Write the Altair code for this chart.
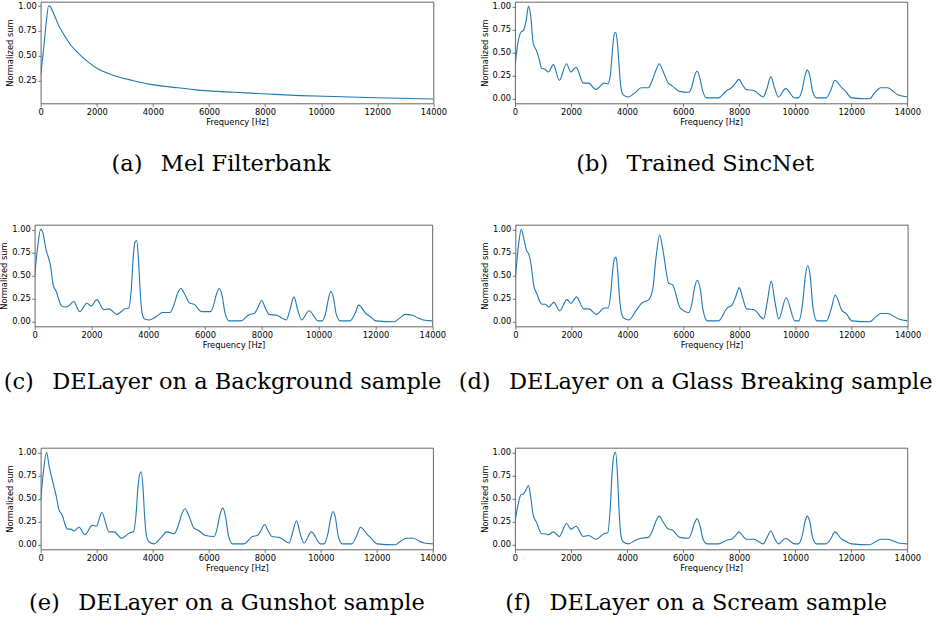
import altair as alt
import pandas as pd

# ---------------- data ----------------
FREQ_MEL = [0, 100, 200, 280, 330, 420, 530, 650, 770, 900, 1090, 1250, 1430, 1720,
            2020, 2610, 3270, 3920, 4750, 5700, 6890, 8080, 9270, 10460, 11650, 12830, 14000]
VAL_MEL = [0.30, 0.56, 0.84, 1.0, 1.0, 0.95, 0.88, 0.80, 0.74, 0.68, 0.60, 0.55, 0.50, 0.43,
           0.37, 0.30, 0.25, 0.21, 0.18, 0.15, 0.13, 0.113, 0.097, 0.087, 0.077, 0.070, 0.062]

FREQ = [0, 100, 210, 300, 400, 480, 560, 650, 770, 870, 950, 1070, 1190, 1370, 1580, 1840,
        1990, 2180, 2440, 2620, 2890, 3180, 3310, 3400, 3470, 3530, 3590, 3650, 3710, 3780,
        3870, 4050, 4300, 4500, 4760, 4900, 5020, 5150, 5280, 5470, 5610, 5880, 6190, 6300,
        6400, 6500, 6600, 6700, 6850, 7250, 7560, 7730, 7870, 7990, 8120, 8250, 8520, 8860,
        8980, 9130, 9260, 9400, 9660, 9980, 10110, 10250, 10350, 10430, 10520, 10620, 10760,
        11100, 11280, 11410, 11660, 11800, 12010, 12650, 12850, 13050, 13300, 13500, 13680, 14000]

VAL_SINC = [0.35, 0.60, 0.72, 0.74, 0.85, 1.00, 0.90, 0.60, 0.52, 0.42, 0.33, 0.32, 0.29, 0.37,
            0.20, 0.38, 0.29, 0.34, 0.17, 0.17, 0.10, 0.17, 0.16, 0.25, 0.50, 0.68, 0.72, 0.62,
            0.38, 0.12, 0.04, 0.02, 0.07, 0.12, 0.12, 0.20, 0.30, 0.38, 0.30, 0.17, 0.14, 0.08,
            0.07, 0.12, 0.24, 0.30, 0.22, 0.08, 0.01, 0.01, 0.09, 0.12, 0.17, 0.21, 0.15, 0.10,
            0.09, 0.02, 0.10, 0.24, 0.12, 0.02, 0.11, 0.01, 0.01, 0.10, 0.25, 0.31, 0.25, 0.08,
            0.01, 0.01, 0.10, 0.20, 0.12, 0.08, 0.01, 0.00, 0.07, 0.12, 0.12, 0.08, 0.04, 0.02]

VAL_BACKGROUND = [0.50, 0.80, 1.00, 0.95, 0.78, 0.70, 0.60, 0.40, 0.32, 0.22, 0.17, 0.16, 0.17, 0.22,
                  0.11, 0.20, 0.17, 0.24, 0.13, 0.14, 0.08, 0.14, 0.15, 0.35, 0.70, 0.86, 0.88, 0.70,
                  0.35, 0.10, 0.03, 0.02, 0.06, 0.10, 0.10, 0.18, 0.30, 0.36, 0.30, 0.20, 0.19, 0.11,
                  0.11, 0.18, 0.30, 0.36, 0.28, 0.10, 0.01, 0.01, 0.08, 0.09, 0.16, 0.23, 0.15, 0.08,
                  0.07, 0.02, 0.12, 0.27, 0.13, 0.02, 0.12, 0.01, 0.01, 0.10, 0.26, 0.33, 0.26, 0.08,
                  0.01, 0.01, 0.09, 0.18, 0.09, 0.06, 0.01, 0.00, 0.04, 0.08, 0.07, 0.04, 0.02, 0.01]

VAL_GLASS = [0.48, 0.80, 1.00, 0.90, 0.77, 0.73, 0.62, 0.40, 0.30, 0.22, 0.19, 0.19, 0.16, 0.21,
             0.12, 0.24, 0.20, 0.27, 0.14, 0.14, 0.08, 0.15, 0.15, 0.30, 0.55, 0.68, 0.70, 0.55,
             0.28, 0.10, 0.04, 0.02, 0.12, 0.20, 0.24, 0.35, 0.70, 0.94, 0.75, 0.42, 0.40, 0.15,
             0.10, 0.20, 0.38, 0.45, 0.35, 0.12, 0.01, 0.01, 0.15, 0.18, 0.28, 0.37, 0.25, 0.14,
             0.13, 0.03, 0.20, 0.44, 0.22, 0.03, 0.26, 0.01, 0.01, 0.20, 0.50, 0.61, 0.50, 0.15,
             0.01, 0.01, 0.15, 0.29, 0.12, 0.09, 0.01, 0.00, 0.05, 0.09, 0.09, 0.06, 0.03, 0.01]

VAL_GUNSHOT = [0.48, 0.80, 1.00, 0.85, 0.72, 0.62, 0.52, 0.38, 0.32, 0.22, 0.17, 0.17, 0.15, 0.19,
               0.11, 0.21, 0.20, 0.35, 0.14, 0.14, 0.07, 0.13, 0.14, 0.32, 0.62, 0.76, 0.79, 0.62,
               0.30, 0.09, 0.03, 0.01, 0.08, 0.14, 0.12, 0.20, 0.32, 0.39, 0.32, 0.18, 0.16, 0.10,
               0.09, 0.18, 0.33, 0.40, 0.30, 0.10, 0.01, 0.01, 0.09, 0.10, 0.16, 0.22, 0.15, 0.09,
               0.08, 0.02, 0.12, 0.26, 0.12, 0.02, 0.14, 0.01, 0.01, 0.12, 0.29, 0.36, 0.29, 0.09,
               0.01, 0.01, 0.10, 0.19, 0.11, 0.07, 0.01, 0.00, 0.04, 0.07, 0.07, 0.04, 0.02, 0.01]

VAL_SCREAM = [0.25, 0.42, 0.54, 0.55, 0.60, 0.64, 0.52, 0.32, 0.24, 0.16, 0.12, 0.12, 0.11, 0.14,
              0.09, 0.23, 0.17, 0.20, 0.09, 0.10, 0.06, 0.12, 0.13, 0.40, 0.80, 0.97, 1.00, 0.80,
              0.40, 0.10, 0.03, 0.01, 0.05, 0.07, 0.08, 0.15, 0.25, 0.31, 0.25, 0.17, 0.16, 0.08,
              0.07, 0.13, 0.23, 0.28, 0.21, 0.07, 0.01, 0.01, 0.05, 0.06, 0.10, 0.14, 0.10, 0.06,
              0.06, 0.01, 0.07, 0.15, 0.07, 0.01, 0.07, 0.01, 0.01, 0.10, 0.25, 0.31, 0.25, 0.08,
              0.01, 0.01, 0.07, 0.14, 0.06, 0.04, 0.01, 0.00, 0.03, 0.06, 0.06, 0.04, 0.02, 0.01]

X_TICKS = [0, 2000, 4000, 6000, 8000, 10000, 12000, 14000]
Y_TICKS = [0.0, 0.25, 0.5, 0.75, 1.0]
Y_TICKS_MEL = [0.25, 0.5, 0.75, 1.0]

CAPTIONS = [
    "(a)\u2002 Mel Filterbank",
    "(b)\u2002 Trained SincNet",
    "(c)\u2002 DELayer on a Background sample",
    "(d)\u2002 DELayer on a Glass Breaking sample",
    "(e)\u2002 DELayer on a Gunshot sample",
    "(f)\u2002 DELayer on a Scream sample",
]

LINE_COLOR = "#1f77b4"
PANEL_H = 101.6


def panel(freqs, vals, width, ydomain, yticks, caption, cap_dx, cap_offset):
    df = pd.DataFrame({"f": freqs, "v": vals})
    return (
        alt.Chart(df)
        .mark_line(color=LINE_COLOR, strokeWidth=1.1, interpolate="monotone", clip=True)
        .encode(
            x=alt.X("f:Q",
                    scale=alt.Scale(domain=[0, 14000], nice=False, zero=False),
                    axis=alt.Axis(values=X_TICKS, format="d", title="Frequency [Hz]")),
            y=alt.Y("v:Q",
                    scale=alt.Scale(domain=ydomain, nice=False, zero=False),
                    axis=alt.Axis(values=yticks, format=".2f", title="Normalized sum")),
        )
        .properties(
            width=width,
            height=PANEL_H,
            title=alt.TitleParams(
                caption, orient="bottom", frame="group", anchor="middle",
                dx=cap_dx, offset=cap_offset, baseline="alphabetic",
                font="DejaVu Serif", fontSize=22.5, fontWeight="normal", color="black",
            ),
        )
    )


def spacer(width):
    df = pd.DataFrame({"f": [0], "v": [0]})
    return (
        alt.Chart(df)
        .mark_point(opacity=0)
        .encode(x=alt.X("f:Q", axis=None), y=alt.Y("v:Q", axis=None))
        .properties(width=width, height=PANEL_H,
                    view=alt.ViewBackground(stroke="transparent"))
    )


YDOM = [-0.05, 1.05]

pa = panel(FREQ_MEL, VAL_MEL, 392.7, [0.018, 1.044], Y_TICKS_MEL, CAPTIONS[0], -16, 45)
pb = panel(FREQ, VAL_SINC, 392.3, YDOM, Y_TICKS, CAPTIONS[1], -16, 45)
pc = panel(FREQ, VAL_BACKGROUND, 397.6, YDOM, Y_TICKS, CAPTIONS[2], -11, 40)
pd_ = panel(FREQ, VAL_GLASS, 392.3, YDOM, Y_TICKS, CAPTIONS[3], -16, 40)
pe = panel(FREQ, VAL_GUNSHOT, 392.3, YDOM, Y_TICKS, CAPTIONS[4], -10, 38)
pf = panel(FREQ, VAL_SCREAM, 392.3, YDOM, Y_TICKS, CAPTIONS[5], -15, 38)

row1 = alt.hconcat(alt.hconcat(spacer(5.3), pa, spacing=0, bounds="flush"), pb,
                   spacing=480.3, bounds="flush")
row2 = alt.hconcat(pc, pd_, spacing=82.7, bounds="flush")
row3 = alt.hconcat(alt.hconcat(spacer(5.3), pe, spacing=0, bounds="flush"), pf,
                   spacing=480.3, bounds="flush")

chart = (
    alt.vconcat(row1, row2, row3, spacing=223, bounds="flush")
    .properties(
        autosize=alt.AutoSizeParams(type="none"),
        padding={"left": 34.7, "top": 1.8, "right": 908.3, "bottom": 626.2},
        background="white",
    )
    .configure_view(stroke="#555555", strokeWidth=0.9)
    .configure_axis(
        grid=False, domain=False,
        labelFont="DejaVu Sans", labelFontSize=8.3, labelColor="black",
        titleFont="DejaVu Sans", titleFontSize=8.3, titleFontWeight="normal", titleColor="black",
        tickColor="#555555", tickSize=3, tickWidth=0.8,
        labelOverlap=False,
    )
    .configure_axisX(labelPadding=1.5, titlePadding=1.5, labelFlush=False)
    .configure_axisY(labelPadding=1.5, titlePadding=3)
)

chart.save("out.html", embed_options={"renderer": "svg", "actions": False})
